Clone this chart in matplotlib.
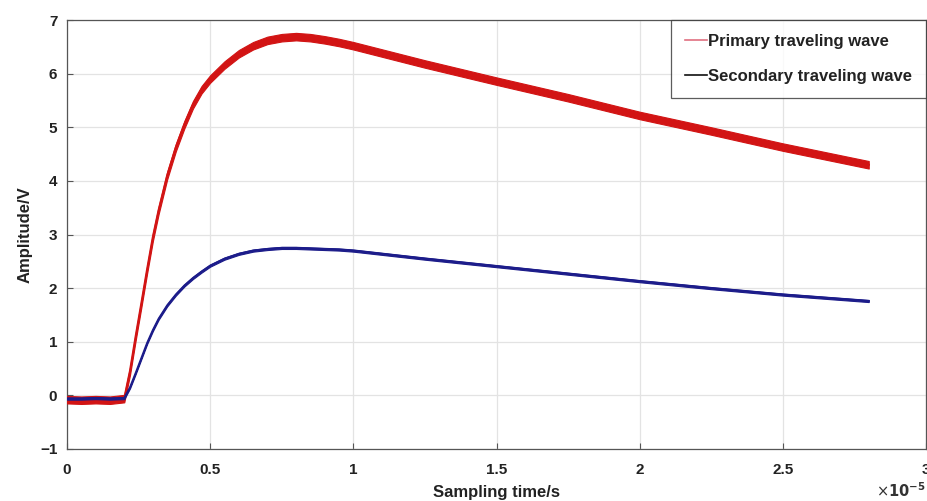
import matplotlib.pyplot as plt
from matplotlib.lines import Line2D

# sampling time in units of 1e-5 s
t = [0.0, 0.05, 0.10, 0.15, 0.20, 0.22, 0.24, 0.26, 0.28, 0.30, 0.32, 0.35,
     0.38, 0.41, 0.44, 0.47, 0.50, 0.55, 0.60, 0.65, 0.70, 0.75, 0.80, 0.85,
     0.90, 0.95, 1.0, 1.25, 1.5, 1.75, 2.0, 2.25, 2.5, 2.8]

primary = [-0.08, -0.09, -0.08, -0.09, -0.06, 0.45, 1.10, 1.72, 2.35, 2.95, 3.45, 4.10,
           4.62, 5.05, 5.42, 5.70, 5.90, 6.16, 6.37, 6.52, 6.62, 6.67, 6.69, 6.67,
           6.63, 6.58, 6.52, 6.18, 5.86, 5.55, 5.22, 4.93, 4.63, 4.30]

secondary = [-0.06, -0.06, -0.05, -0.06, -0.05, 0.15, 0.42, 0.70, 0.98, 1.22, 1.43, 1.68,
             1.88, 2.05, 2.19, 2.31, 2.42, 2.55, 2.64, 2.70, 2.73, 2.75, 2.75, 2.74,
             2.73, 2.72, 2.70, 2.55, 2.41, 2.27, 2.13, 2.00, 1.88, 1.76]

red = "#d21414"
blue = "#1c1c8a"

plt.rcParams["font.family"] = ["Liberation Sans", "DejaVu Sans"]

fig = plt.figure(figsize=(9.27, 5.01), dpi=100)
ax = fig.add_axes([67 / 927, 52 / 501, 859 / 927, 429 / 501])

# the traces are noisy, draw them as thin vertical bands
ax.fill_between(t, [v - 0.07 for v in primary], [v + 0.07 for v in primary],
                color=red, lw=0.8, zorder=3)
ax.plot(t, primary, color=red, lw=1.6, zorder=3)
ax.fill_between(t, [v - 0.02 for v in secondary], [v + 0.02 for v in secondary],
                color=blue, lw=0.8, zorder=4)
ax.plot(t, secondary, color=blue, lw=1.4, zorder=4)

ax.set_xlim(0, 3)
ax.set_ylim(-1, 7)
ax.set_xticks([0, 0.5, 1, 1.5, 2, 2.5, 3])
ax.set_xticklabels(["0", "0.5", "1", "1.5", "2", "2.5", "3"])
ax.set_yticks(range(-1, 8))
ax.grid(True, color="#e3e3e3", lw=0.9)
ax.set_axisbelow(True)
ax.tick_params(direction="in", length=4, labelsize=11, color="#555555")
ax.tick_params(axis="x", pad=10)
ax.tick_params(axis="y", pad=7)
for lab in ax.get_xticklabels() + ax.get_yticklabels():
    lab.set_fontweight("bold")
    lab.set_color("#222222")
for s in ax.spines.values():
    s.set_color("#555555")
    s.set_linewidth(0.9)

ax.set_xlabel("Sampling time/s", fontsize=12, fontweight="bold", labelpad=6,
              color="#222222")
ax.set_ylabel("Amplitude/V", fontsize=12, fontweight="bold", labelpad=5,
              color="#222222")
ax.text(1.0, -0.098, r"$\times\mathbf{10^{-5}}$", transform=ax.transAxes,
        fontsize=10.5, ha="right", va="center", color="#333333")

handles = [Line2D([], [], color="#e07080", lw=1.2),
           Line2D([], [], color="#111111", lw=1.2)]
leg = ax.legend(handles, ["Primary traveling wave", "Secondary traveling wave"],
                loc="upper right", bbox_to_anchor=(1.0, 1.0),
                prop={"weight": "bold", "size": 12}, frameon=True, fancybox=False,
                edgecolor="#333333", borderaxespad=0.0, handlelength=1.3,
                handletextpad=0.05, borderpad=0.85, labelspacing=1.2)
leg.get_frame().set_linewidth(0.9)
leg.set_zorder(10)
for txt in leg.get_texts():
    txt.set_color("#222222")

fig.savefig("out.png", dpi=100)
